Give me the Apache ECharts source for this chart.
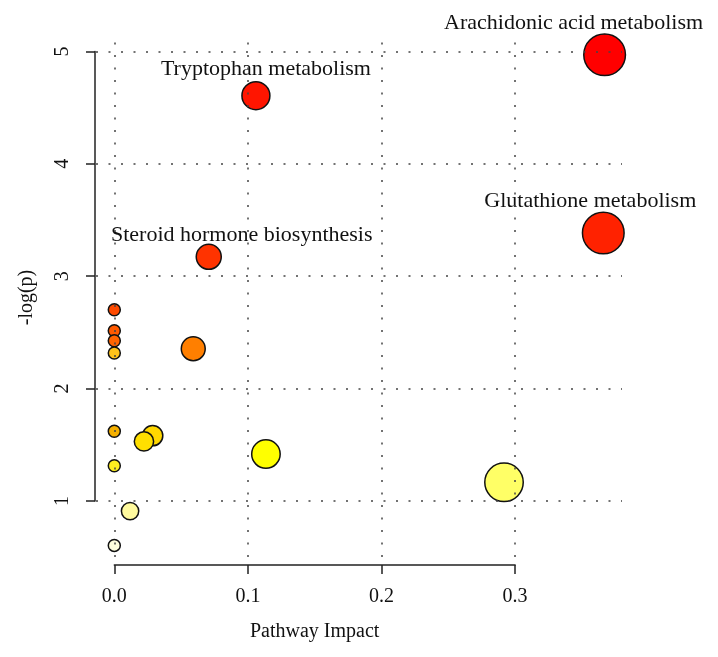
<!DOCTYPE html>
<html>
<head>
<meta charset="utf-8">
<script src="https://cdn.jsdelivr.net/npm/echarts@6/dist/echarts.min.js"></script>
<style>html,body{margin:0;padding:0;background:#fff}#c{width:718px;height:657px}</style>
</head>
<body>
<div id="c"></div>
<script>
// ---- data ----
const pathwayNames = [
  'Arachidonic acid metabolism', 'Tryptophan metabolism', 'Glutathione metabolism',
  'Steroid hormone biosynthesis', '', '', '', '', '', '', '', '', '', '', '', '', ''
];
const pathwayImpact = [0.367, 0.106, 0.366, 0.0707, 0, 0, 0, 0.0591, 0, 0, 0.0287, 0.0222, 0.1135, 0, 0.2917, 0.0118, 0];
const negLogP = [4.97, 4.606, 3.384, 3.173, 2.702, 2.515, 2.426, 2.355, 2.317, 1.62, 1.581, 1.530, 1.418, 1.314, 1.166, 0.91, 0.605];
const xTicks = [0, 0.1, 0.2, 0.3];
const yTicks = [1, 2, 3, 4, 5];

// ---- styles ----
const pointColors = ['#FF0000', '#FF1500', '#FF2200', '#FF3300', '#FF4A00', '#FF5A00', '#FF6400', '#FF7F00',
  '#FFC21A', '#F5B000', '#FFD700', '#FFDF00', '#FFFF00', '#FFEF20', '#FFFF66', '#FFFA9E', '#FFFFDD'];
const labelOffsets = {
  'Arachidonic acid metabolism': [-31, -32],
  'Tryptophan metabolism': [10, -26],
  'Glutathione metabolism': [-13, -32],
  'Steroid hormone biosynthesis': [33, -22]
};
const FONT = 'Liberation Serif';

// ---- layout (pixel anchors of the axis scales) ----
const W = 718, H = 657;
const X0PX = 114.3, XPX = 1336;   // px of x=0, px per unit
const Y1PX = 501, YPX = 112.4;    // px of y=1, px per unit
const plot = {left: 96, right: 622, top: 38, bottom: 557};
const xMin = (plot.left - X0PX) / XPX, xMax = (plot.right - X0PX) / XPX;
const yMin = 1 - (plot.bottom - Y1PX) / YPX, yMax = 1 + (Y1PX - plot.top) / YPX;
const axLeft = X0PX, axRight = X0PX + 0.3 * XPX, axTop = Y1PX - 4 * YPX, axBottom = Y1PX;

const points = pathwayImpact.map((x, i) => {
  const nm = pathwayNames[i];
  const item = {value: [x, negLogP[i]], name: nm, itemStyle: {color: pointColors[i]}};
  if (nm) {
    item.label = {show: true, formatter: nm, position: 'inside', offset: labelOffsets[nm],
      fontFamily: FONT, fontSize: 22, color: '#111', align: 'center', verticalAlign: 'middle'};
  }
  return item;
});

const chart = echarts.init(document.getElementById('c'), null, {renderer: 'canvas'});
chart.setOption({
  animation: false,
  backgroundColor: '#fff',
  grid: [
    {left: plot.left, right: W - plot.right, top: plot.top, bottom: H - plot.bottom},
    {left: axLeft, right: W - axRight, top: axTop, bottom: H - axBottom}
  ],
  xAxis: [
    {gridIndex: 0, type: 'value', min: xMin, max: xMax, show: false},
    {gridIndex: 1, type: 'value', min: 0, max: 0.3, interval: 0.1, position: 'bottom', offset: 64,
     axisLine: {show: true, onZero: false, lineStyle: {color: '#222', width: 1.5}},
     axisTick: {show: true, inside: false, length: 9, lineStyle: {color: '#222', width: 1.5}},
     axisLabel: {show: true, margin: 22, fontFamily: FONT, fontSize: 20, color: '#111',
       formatter: v => v.toFixed(1)},
     splitLine: {show: false},
     name: 'Pathway Impact', nameLocation: 'middle', nameGap: 57,
     nameTextStyle: {fontFamily: FONT, fontSize: 20, color: '#111'}}
  ],
  yAxis: [
    {gridIndex: 0, type: 'value', min: yMin, max: yMax, position: 'left',
     axisLine: {show: false, onZero: false}, axisTick: {show: false}, axisLabel: {show: false}, splitLine: {show: false},
     name: '-log(p)', nameLocation: 'middle', nameGap: 59, nameRotate: 90,
     nameTextStyle: {fontFamily: FONT, fontSize: 20, color: '#111'}},
    {gridIndex: 1, type: 'value', min: 1, max: 5, interval: 1, position: 'left', offset: axLeft - 95,
     axisLine: {show: true, onZero: false, lineStyle: {color: '#222', width: 1.5}},
     axisTick: {show: true, inside: false, length: 9, lineStyle: {color: '#222', width: 1.5}},
     axisLabel: {show: true, rotate: 90, margin: 22, fontFamily: FONT, fontSize: 20, color: '#111'},
     splitLine: {show: false}}
  ],
  series: [
    {
      type: 'scatter', xAxisIndex: 0, yAxisIndex: 0, data: [], z: 1, silent: true,
      markLine: {
        silent: true, symbol: 'none', label: {show: false}, animation: false,
        lineStyle: {color: '#444', width: 1.5, type: [2, 10.5]},
        data: xTicks.map(v => ({xAxis: v})).concat(yTicks.map(v => ({yAxis: v})))
      }
    },
    {
      type: 'scatter', xAxisIndex: 0, yAxisIndex: 0, z: 3, clip: false,
      symbol: 'circle',
      symbolSize: v => 12 + 49 * Math.sqrt(v[0]),
      itemStyle: {borderColor: '#111', borderWidth: 1.5, opacity: 1},
      emphasis: {disabled: true},
      data: points
    }
  ]
});
</script>
</body>
</html>
